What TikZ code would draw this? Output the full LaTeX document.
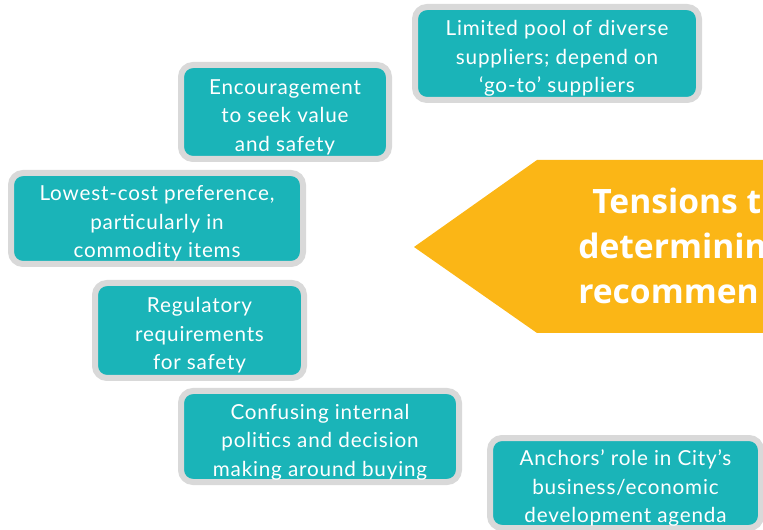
\documentclass[tikz,border=0pt]{standalone}
\usepackage{fontspec}
\setmainfont{Lato}
\newfontfamily\boxfont[LetterSpace=4]{Lato}
\newfontfamily\titlefont{Open Sans}
\definecolor{tealfill}{HTML}{1AB4B8}
\definecolor{rimgray}{HTML}{D9D9D9}
\definecolor{arrowgold}{HTML}{FBB616}
\tikzset{
  issue/.style={fill=tealfill, draw=rimgray, line width=4.5pt, rounded corners=9pt,
    inner sep=0pt},
  issuetext/.style={inner sep=0pt, align=center, text=white,
    font=\boxfont\fontsize{15.5}{21.4}\selectfont},
  headline/.style={anchor=base west, inner sep=0pt, text=white,
    font=\titlefont\bfseries\fontsize{25.2}{33.75}\selectfont}
}
\begin{document}
\begin{tikzpicture}[x=0.75pt,y=-0.75pt]
\useasboundingbox (0,0) rectangle (763,530);
\clip (0,0) rectangle (763,530);

% central pointer shape
\fill[arrowgold] (414,247) -- (537,160) -- (790,160) -- (790,333) -- (537,333) -- cycle;
\node[headline] (t1) at (592,214) {Tensions t};
\node[headline] (t2) at (578,259) {determinin};
\node[headline] (t3) at (578,304) {recommen};

% tension boxes
\node[issue, minimum width=213pt, minimum height=69.75pt] (pool) at (557,53.5) {};
\node[issuetext] (poolt) at ([yshift=-3.75pt]pool.center)
  {Limited pool of diverse\\suppliers; depend on\\‘go-to’ suppliers};

\node[issue, minimum width=156pt, minimum height=70.5pt] (value) at (285,112) {};
\node[issuetext] (valuet) at ([yshift=-3.75pt]value.center)
  {Encouragement\\to seek value\\and safety};

\node[issue, minimum width=219pt, minimum height=68.25pt] (cost) at (157,218.5) {};
\node[issuetext] (costt) at ([yshift=-3.75pt]cost.center)
  {Lowest-cost preference,\\particularly in\\commodity items};

\node[issue, minimum width=156.75pt, minimum height=71.25pt] (regs) at (199.5,330.5) {};
\node[issuetext] (regst) at ([yshift=-3.75pt]regs.center)
  {Regulatory\\requirements\\for safety};

\node[issue, minimum width=208.5pt, minimum height=68.25pt] (politics) at (320,436.5) {};
\node[issuetext] (politicst) at ([yshift=-4.2pt]politics.center)
  {Confusing internal\\politics and decision\\making around buying};

\node[issue, minimum width=203.25pt, minimum height=67.5pt] (anchors) at (625.5,483) {};
\node[issuetext] (anchorst) at ([yshift=-3.75pt]anchors.center)
  {Anchors’ role in City’s\\business/economic\\development agenda};
\end{tikzpicture}
\end{document}
